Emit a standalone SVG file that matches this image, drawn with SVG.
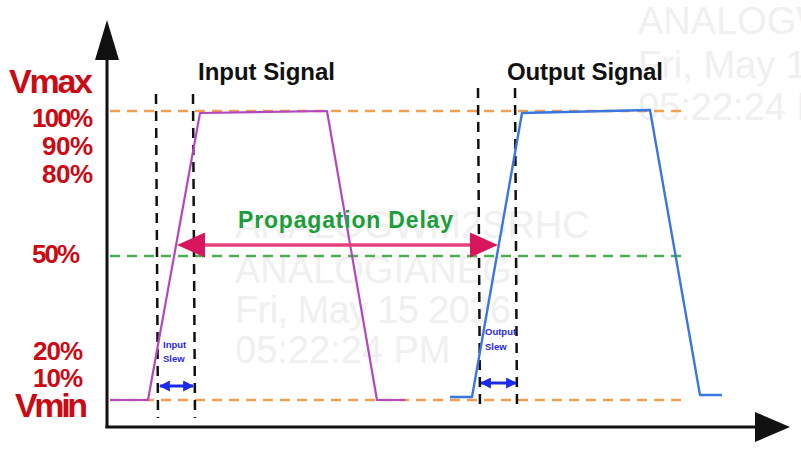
<svg xmlns="http://www.w3.org/2000/svg" width="801" height="452" viewBox="0 0 801 452">
<defs>
<style>
.wm{font-family:"Liberation Sans",Arial,sans-serif;fill:#f0f0f0;font-size:38px}
.lbl{font-family:"Liberation Sans",Arial,sans-serif;font-weight:bold;fill:#cc0a14}
.ttl{font-family:"Liberation Sans",Arial,sans-serif;font-weight:bold;fill:#111;font-size:24px}
.slew{font-family:"Liberation Sans",Arial,sans-serif;font-weight:bold;fill:#2a2ae0;font-size:9.5px}
.vdash{stroke:#111;stroke-width:2.5;stroke-dasharray:10 7;fill:none}
.orange{stroke:#f0a050;stroke-width:2.5;stroke-dasharray:10 7;fill:none}
.green{stroke:#4cb050;stroke-width:2.5;stroke-dasharray:10 7;fill:none}
.axis{stroke:#111;stroke-width:3;fill:none}
</style>
<marker id="pd" viewBox="0 0 10 10" refX="0" refY="5" markerWidth="28" markerHeight="25" markerUnits="userSpaceOnUse" orient="auto-start-reverse" preserveAspectRatio="none">
<path d="M0,0 L10,5 L0,10 Z" fill="#d8165e"/>
</marker>
<marker id="bl" viewBox="0 0 10 10" refX="9" refY="5" markerWidth="11" markerHeight="11" markerUnits="userSpaceOnUse" orient="auto-start-reverse">
<path d="M0,0 L10,5 L0,10 Z" fill="#1a2ae8"/>
</marker>
</defs>
<rect width="801" height="452" fill="#fff"/>
<g id="watermark">
<text class="wm" x="638" y="34">ANALOGW</text>
<text class="wm" x="638" y="78">Fri, May 1</text>
<text class="wm" x="638" y="120">05:22:24 P</text>
<text class="wm" x="235" y="238">ANALOGWM2SRHC</text>
<text class="wm" x="235" y="283">ANALOGIANEGI</text>
<text class="wm" x="235" y="323" textLength="276">Fri, May 15 2026</text>
<text class="wm" x="235" y="363">05:22:24 PM</text>
</g>
<g id="axes">
<line class="axis" x1="107" y1="55" x2="107" y2="428"/>
<polygon points="107,20 95,60 119,60" fill="#111"/>
<line class="axis" x1="105.5" y1="427" x2="760" y2="427"/>
<polygon points="790,427 755,412 755,442" fill="#111"/>
</g>
<g id="levels">
<line class="orange" x1="110" y1="111" x2="683" y2="111"/>
<line class="green" x1="110" y1="256" x2="683" y2="256"/>
<line class="orange" x1="110" y1="400" x2="683" y2="400"/>
</g>
<g id="y-labels">
<text class="lbl" x="93" y="93" font-size="34" text-anchor="end" textLength="84">Vmax</text>
<text class="lbl" x="93" y="127" font-size="26" text-anchor="end" textLength="61">100%</text>
<text class="lbl" x="93" y="155" font-size="26" text-anchor="end" textLength="51">90%</text>
<text class="lbl" x="93" y="183" font-size="26" text-anchor="end" textLength="51">80%</text>
<text class="lbl" x="80" y="263" font-size="26" text-anchor="end" textLength="48">50%</text>
<text class="lbl" x="83" y="360" font-size="26" text-anchor="end" textLength="50">20%</text>
<text class="lbl" x="83" y="387" font-size="26" text-anchor="end" textLength="50">10%</text>
<text class="lbl" x="88" y="417" font-size="34" text-anchor="end" textLength="73">Vmin</text>
</g>
<g id="slew-markers">
<line class="vdash" x1="156" y1="94" x2="158" y2="418"/>
<line class="vdash" x1="193" y1="94" x2="195" y2="418"/>
<line class="vdash" x1="478" y1="88" x2="480" y2="410"/>
<line class="vdash" x1="515" y1="88" x2="517" y2="410"/>
</g>
<g id="input-signal">
<polyline points="110,400 148,400 200,113 327,111 377,400 405,400" fill="none" stroke="#b447c0" stroke-width="2.2" stroke-linejoin="round"/>
<text class="ttl" x="198" y="80" textLength="137">Input Signal</text>
</g>
<g id="output-signal">
<polyline points="450,397 472,397 522,113 650,110 700,395 722,395" fill="none" stroke="#3a76e0" stroke-width="2.4" stroke-linejoin="round"/>
<text class="ttl" x="507" y="80" textLength="156">Output Signal</text>
</g>
<g id="input-slew">
<text class="slew" x="163" y="348">Input</text>
<text class="slew" x="163" y="362">Slew</text>
</g>
<g id="output-slew">
<text class="slew" x="485" y="335">Output</text>
<text class="slew" x="485" y="350">Slew</text>
</g>
<g id="propagation-delay">
<text x="238" y="228" font-family="Liberation Sans, Arial, sans-serif" font-weight="bold" font-size="23" fill="#1a9e3a" textLength="215">Propagation Delay</text>
</g>
<g id="connectors">
<line x1="205" y1="245" x2="470" y2="245" stroke="#e8407a" stroke-width="3.5" marker-start="url(#pd)" marker-end="url(#pd)"/>
<line x1="160" y1="386" x2="193" y2="386" stroke="#1a2ae8" stroke-width="3" marker-start="url(#bl)" marker-end="url(#bl)"/>
<line x1="481" y1="383" x2="516" y2="383" stroke="#1a2ae8" stroke-width="3" marker-start="url(#bl)" marker-end="url(#bl)"/>
</g>
</svg>
